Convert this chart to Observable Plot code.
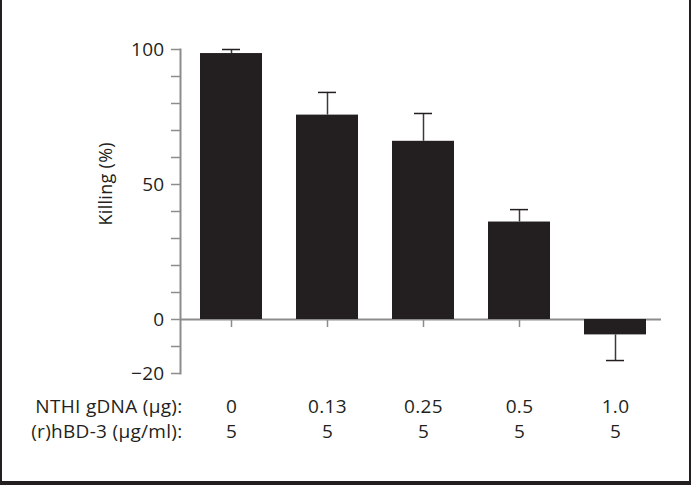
<!DOCTYPE html>
<html>
<head>
<meta charset="utf-8">
<script src="https://cdn.jsdelivr.net/npm/d3@7"></script>
<script src="https://cdn.jsdelivr.net/npm/@observablehq/plot@0.6"></script>
<style>
  html, body { margin: 0; padding: 0; background: #fff; }
  #wrap { position: relative; width: 691px; height: 485px; overflow: hidden; }
  #chart { position: absolute; left: 0; top: 0; }
  #border { position: absolute; left: 0; top: 0; width: 691px; height: 485px; box-sizing: border-box;
            border-left: 2px solid #231f20; border-right: 2px solid #231f20; border-bottom: 4px solid #231f20;
            pointer-events: none; }
  #chart svg text { letter-spacing: 0.3px; }
</style>
</head>
<body>
<div id="wrap"><div id="chart"></div><div id="border"></div></div>
<script>
// Data
const gdnaLabels = ["0", "0.13", "0.25", "0.5", "1.0"];   // NTHI gDNA (µg)
const hbdLabels  = ["5", "5", "5", "5", "5"];              // (r)hBD-3 (µg/ml)
const killing    = [98.5, 75.7, 66.0, 36.1, -5.7];         // Killing (%)
const errors     = [1.5, 8.4, 10.3, 4.6, 9.5];             // error bar size
const yTicks     = [-20, -10, 0, 10, 20, 30, 40, 50, 60, 70, 80, 90, 100];
const yLabeled   = [-20, 0, 50, 100];

const data = gdnaLabels.map((g, i) => ({
  gdna: g,
  hbd: hbdLabels[i],
  value: killing[i],
  errEnd: killing[i] + Math.sign(killing[i]) * errors[i]
}));

const ink = "#231f20";
const axisGray = "#8c8c8c";
const fmt = d3.format("d");
const fs = 19;

const chart = Plot.plot({
  width: 691,
  height: 485,
  marginLeft: 180,
  marginRight: 30,
  marginTop: 49,
  marginBottom: 112,
  style: { fontFamily: "'Open Sans', sans-serif", fontSize: fs + "px", color: ink, background: "transparent" },
  x: { domain: gdnaLabels, paddingInner: 0.35, paddingOuter: 0.155, align: 0.58, axis: null },
  y: { domain: [-20, 100], axis: null },
  marks: [
    Plot.ruleY([0], { stroke: axisGray, strokeWidth: 2 }),
    Plot.ruleX(data, { x: "gdna", y1: () => 0, y2: () => 0, insetBottom: -8, stroke: axisGray, strokeWidth: 1.5 }),
    Plot.barY(data, { x: "gdna", y: "value", fill: ink }),
    Plot.ruleX(data, { x: "gdna", y1: "value", y2: "errEnd", stroke: "#3a3a3a", strokeWidth: 1.5 }),
    Plot.tickY(data, { x: "gdna", y: "errEnd", insetLeft: 22, insetRight: 22, stroke: ink, strokeWidth: 1.5 }),
    Plot.frame({ anchor: "left", stroke: axisGray, strokeWidth: 2 }),
    Plot.axisY({
      ticks: yTicks,
      tickSize: 9,
      tickPadding: 7,
      stroke: axisGray,
      strokeWidth: 1.5,
      fill: ink,
      fontSize: fs,
      label: null,
      tickFormat: d => yLabeled.includes(d) ? fmt(d) : ""
    }),
    Plot.text(["Killing (%)"], { frameAnchor: "left", rotate: -90, dx: -74, dy: 14, fill: ink, fontSize: 18 }),
    Plot.text(data, { x: "gdna", text: "gdna", frameAnchor: "bottom", dy: 39, fill: ink, fontSize: fs }),
    Plot.text(data, { x: "gdna", text: "hbd", frameAnchor: "bottom", dy: 64, fill: ink, fontSize: fs }),
    Plot.text(["NTHI gDNA (µg):"], { frameAnchor: "bottom-left", textAnchor: "end", dx: 2, dy: 39, fill: ink, fontSize: fs }),
    Plot.text(["(r)hBD-3 (µg/ml):"], { frameAnchor: "bottom-left", textAnchor: "end", dx: 2, dy: 64, fill: ink, fontSize: fs })
  ]
});
document.getElementById("chart").appendChild(chart);
</script>
</body>
</html>
